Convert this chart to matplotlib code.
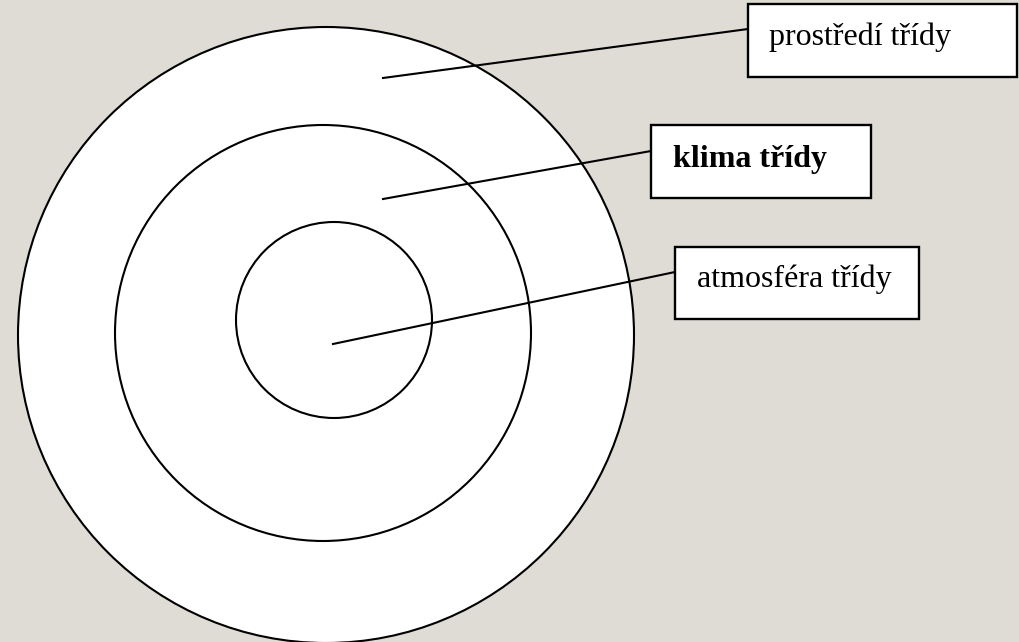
import matplotlib
matplotlib.use("Agg")
import matplotlib.pyplot as plt
from matplotlib.patches import Circle, Rectangle

plt.rcParams["font.family"] = ["Liberation Serif", "DejaVu Serif"]

# labels of the three layers (outer -> inner)
labels = ["prostředí třídy", "klima třídy", "atmosféra třídy"]
weights = ["normal", "bold", "normal"]

# circles in pixel coords: centre x, centre y, radius
circ_x = [326, 323, 334]
circ_y = [335, 333, 320]
circ_r = [308, 208, 98]

# leader lines: start point inside ring, end point at box
line_x0 = [383, 383, 333]
line_y0 = [78, 199, 344]
line_x1 = [748, 651, 675]
line_y1 = [29, 151, 272]

# label boxes: left, top, width, height
box_x = [748, 651, 675]
box_y = [4, 125, 247]
box_w = [269, 220, 244]
box_h = [73, 73, 72]
text_x = [769, 673, 697]
text_y = [45, 167, 287]

bg = "#dfdcd6"
fig = plt.figure(figsize=(10.19, 6.42), dpi=100)
fig.patch.set_facecolor(bg)
ax = fig.add_axes([0, 0, 1, 1])
ax.set_xlim(0, 1019)
ax.set_ylim(642, 0)
ax.set_facecolor(bg)
ax.axis("off")

for i in range(3):
    ax.add_patch(Circle((circ_x[i], circ_y[i]), circ_r[i], facecolor="white",
                        edgecolor="black", linewidth=1.5, zorder=1 + i))

for i in range(3):
    ax.plot([line_x0[i], line_x1[i]], [line_y0[i], line_y1[i]], color="black",
            linewidth=1.5, zorder=5)
    ax.add_patch(Rectangle((box_x[i], box_y[i]), box_w[i], box_h[i],
                           facecolor="white", edgecolor="black",
                           linewidth=1.7, zorder=6))
    ax.text(text_x[i], text_y[i], labels[i], fontsize=23, fontweight=weights[i],
            ha="left", va="baseline", color="black", zorder=7)

fig.savefig("out.png", dpi=100, facecolor=bg)
